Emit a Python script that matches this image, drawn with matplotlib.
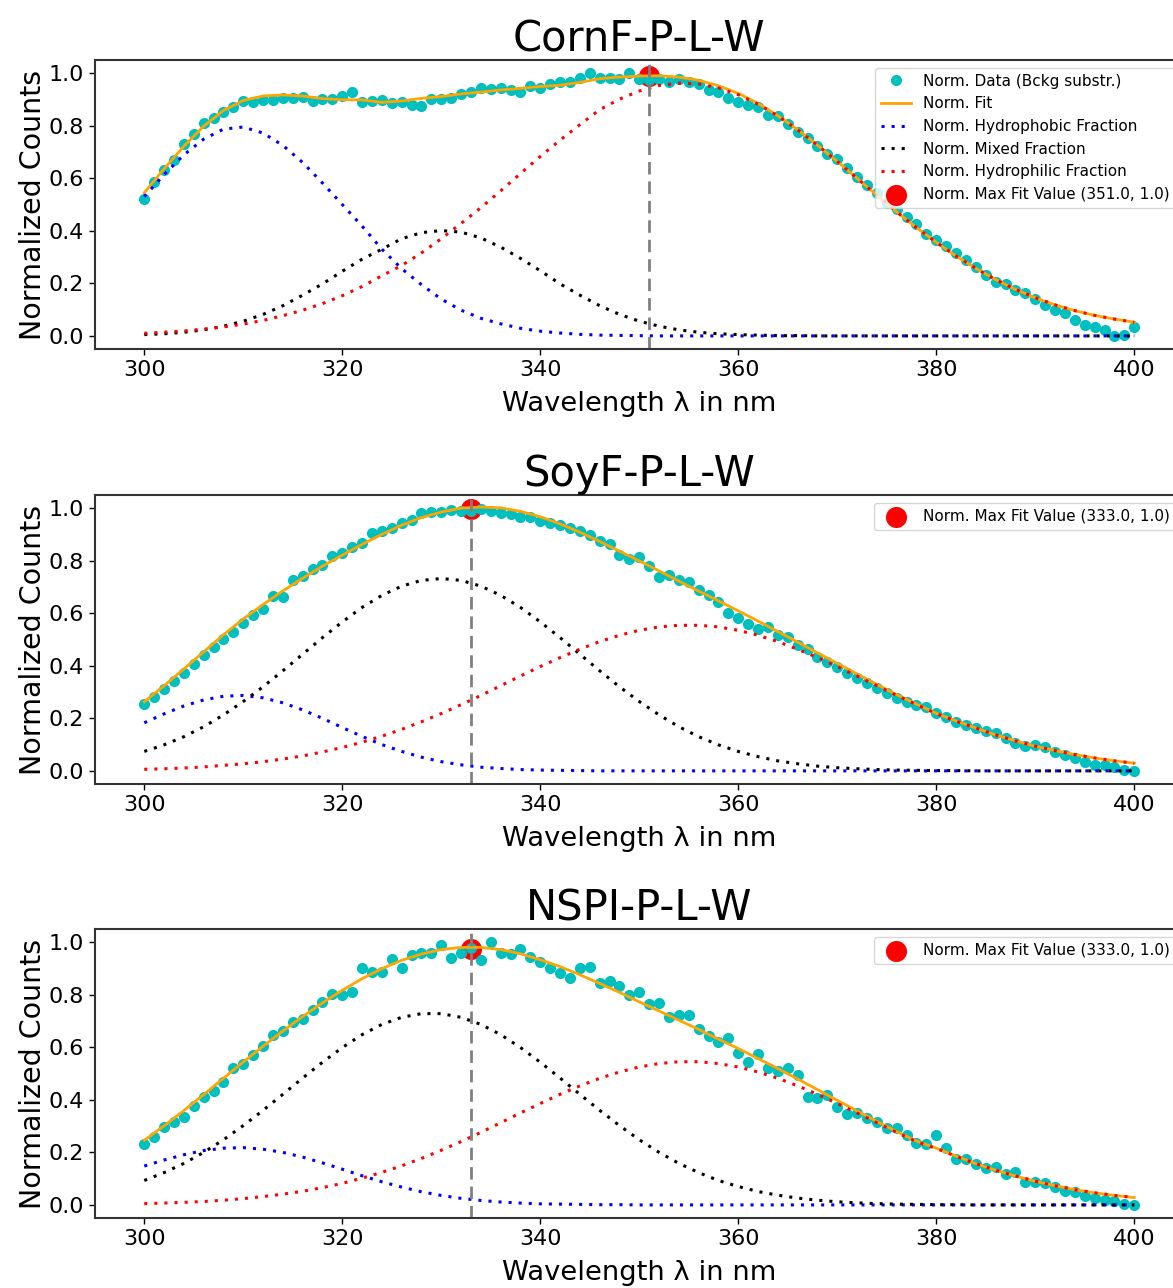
import matplotlib.pyplot as plt
import numpy as np

# axes of the spectra
wavelength = np.arange(300, 401)           # measured points, 1 nm step
wavelength_fit = np.arange(300, 401, 2)    # fitted components, 2 nm step

# ---------------- CornF-P-L-W ----------------
cornf_data = [0.52, 0.585, 0.63, 0.67, 0.73, 0.77, 0.81, 0.83, 0.853, 0.873,
              0.894, 0.89, 0.898, 0.898, 0.907, 0.907, 0.91, 0.895, 0.903, 0.90,
              0.913, 0.927, 0.889, 0.894, 0.897, 0.888, 0.89, 0.879, 0.875, 0.903,
              0.903, 0.907, 0.921, 0.927, 0.945, 0.938, 0.945, 0.936, 0.93, 0.952,
              0.945, 0.958, 0.965, 0.965, 0.98, 1.0, 0.98, 0.98, 0.978, 1.0,
              0.978, 0.975, 0.978, 0.968, 0.978, 0.968, 0.958, 0.936, 0.93, 0.907,
              0.89, 0.879, 0.87, 0.84, 0.836, 0.807, 0.777, 0.754, 0.723, 0.693,
              0.672, 0.638, 0.606, 0.574, 0.543, 0.505, 0.483, 0.454, 0.426, 0.388,
              0.364, 0.342, 0.317, 0.289, 0.263, 0.232, 0.206, 0.196, 0.175, 0.162,
              0.139, 0.118, 0.099, 0.086, 0.06, 0.042, 0.035, 0.022, 0.0, 0.003, 0.035]
cornf_hydrophobic = [0.530, 0.614, 0.689, 0.749, 0.787, 0.795, 0.772, 0.725, 0.660, 0.582,
                     0.500, 0.418, 0.330, 0.256, 0.195, 0.140, 0.098, 0.067, 0.046, 0.029,
                     0.018, 0.011, 0.006, 0.003, 0.002, 0.001] + [0.0] * 25
cornf_mixed = [0.005, 0.008, 0.014, 0.023, 0.037, 0.056, 0.082, 0.115, 0.155, 0.198,
               0.246, 0.292, 0.330, 0.370, 0.393, 0.401, 0.395, 0.373, 0.338, 0.295,
               0.248, 0.198, 0.155, 0.115, 0.082, 0.056, 0.037, 0.023, 0.014, 0.008,
               0.005, 0.003, 0.001, 0.001] + [0.0] * 17
cornf_hydrophilic = [0.010, 0.014, 0.019, 0.026, 0.034, 0.045, 0.059, 0.077, 0.098, 0.123,
                     0.153, 0.188, 0.229, 0.268, 0.316, 0.370, 0.428, 0.488, 0.552, 0.618,
                     0.683, 0.745, 0.804, 0.861, 0.901, 0.932, 0.953, 0.962, 0.959, 0.944,
                     0.918, 0.882, 0.837, 0.784, 0.726, 0.664, 0.600, 0.535, 0.472, 0.412,
                     0.356, 0.304, 0.257, 0.214, 0.177, 0.145, 0.118, 0.096, 0.078, 0.064,
                     0.052]
cornf_max = (351.0, 0.99)

# ---------------- SoyF-P-L-W ----------------
soyf_data = [0.253, 0.28, 0.31, 0.342, 0.371, 0.406, 0.44, 0.47, 0.503, 0.53,
             0.561, 0.593, 0.616, 0.665, 0.663, 0.727, 0.742, 0.767, 0.783, 0.818,
             0.83, 0.851, 0.869, 0.907, 0.913, 0.926, 0.945, 0.955, 0.983, 0.987,
             0.987, 0.993, 0.99, 0.99, 0.995, 0.99, 0.982, 0.978, 0.965, 0.965,
             0.952, 0.942, 0.936, 0.923, 0.914, 0.898, 0.873, 0.862, 0.822, 0.805,
             0.815, 0.78, 0.737, 0.746, 0.727, 0.72, 0.688, 0.669, 0.644, 0.602,
             0.581, 0.558, 0.539, 0.546, 0.517, 0.511, 0.479, 0.462, 0.435, 0.416,
             0.396, 0.371, 0.352, 0.336, 0.314, 0.295, 0.279, 0.263, 0.25, 0.244,
             0.221, 0.206, 0.187, 0.175, 0.162, 0.153, 0.143, 0.124, 0.105, 0.095,
             0.099, 0.092, 0.073, 0.06, 0.048, 0.035, 0.022, 0.022, 0.014, 0.003, 0.0]
soyf_hydrophobic = [0.183, 0.217, 0.247, 0.270, 0.284, 0.287, 0.278, 0.259, 0.232, 0.200,
                    0.165, 0.131, 0.100, 0.074, 0.052, 0.035, 0.023, 0.014, 0.009, 0.005,
                    0.003, 0.002, 0.001] + [0.0] * 28
soyf_mixed = [0.074, 0.099, 0.130, 0.168, 0.213, 0.264, 0.320, 0.381, 0.444, 0.507,
              0.567, 0.622, 0.668, 0.703, 0.725, 0.732, 0.725, 0.703, 0.668, 0.622,
              0.567, 0.507, 0.444, 0.381, 0.320, 0.264, 0.213, 0.168, 0.130, 0.099,
              0.074, 0.054, 0.038, 0.027, 0.018, 0.012, 0.008, 0.005, 0.003, 0.002,
              0.001, 0.001] + [0.0] * 9
soyf_hydrophilic = [0.006, 0.008, 0.011, 0.015, 0.021, 0.027, 0.035, 0.045, 0.057, 0.072,
                    0.089, 0.109, 0.132, 0.158, 0.187, 0.218, 0.252, 0.287, 0.324, 0.361,
                    0.397, 0.431, 0.463, 0.492, 0.516, 0.535, 0.548, 0.554, 0.554, 0.548,
                    0.535, 0.516, 0.492, 0.463, 0.431, 0.397, 0.361, 0.324, 0.287, 0.252,
                    0.218, 0.189, 0.163, 0.137, 0.114, 0.094, 0.077, 0.062, 0.049, 0.038,
                    0.029]
soyf_max = (333.0, 0.995)

# ---------------- NSPI-P-L-W ----------------
nspi_data = [0.231, 0.26, 0.298, 0.317, 0.336, 0.376, 0.412, 0.433, 0.469, 0.52,
             0.535, 0.571, 0.606, 0.647, 0.662, 0.697, 0.708, 0.742, 0.774, 0.801,
             0.799, 0.812, 0.903, 0.888, 0.888, 0.936, 0.9, 0.951, 0.96, 0.957,
             0.989, 0.941, 0.96, 0.976, 0.932, 1.0, 0.958, 0.954, 0.974, 0.942,
             0.926, 0.9, 0.881, 0.865, 0.9, 0.907, 0.843, 0.852, 0.834, 0.799,
             0.812, 0.763, 0.767, 0.714, 0.723, 0.723, 0.669, 0.643, 0.621, 0.634,
             0.577, 0.545, 0.573, 0.52, 0.508, 0.52, 0.495, 0.412, 0.406, 0.418,
             0.374, 0.345, 0.349, 0.332, 0.314, 0.291, 0.291, 0.268, 0.234, 0.231,
             0.268, 0.215, 0.175, 0.175, 0.154, 0.139, 0.145, 0.116, 0.124, 0.089,
             0.086, 0.082, 0.069, 0.054, 0.05, 0.035, 0.028, 0.019, 0.015, 0.003, 0.0]
nspi_hydrophobic = [0.148, 0.171, 0.191, 0.207, 0.216, 0.218, 0.212, 0.200, 0.182, 0.160,
                    0.136, 0.111, 0.088, 0.068, 0.050, 0.036, 0.025, 0.017, 0.011, 0.007,
                    0.004, 0.003, 0.002, 0.001, 0.001] + [0.0] * 26
nspi_mixed = [0.093, 0.123, 0.158, 0.200, 0.248, 0.302, 0.360, 0.421, 0.483, 0.543,
              0.599, 0.648, 0.687, 0.714, 0.728, 0.728, 0.714, 0.687, 0.648, 0.599,
              0.543, 0.483, 0.421, 0.360, 0.302, 0.248, 0.200, 0.158, 0.123, 0.093,
              0.070, 0.051, 0.037, 0.026, 0.018, 0.012, 0.008, 0.005, 0.003, 0.002,
              0.001, 0.001] + [0.0] * 9
nspi_hydrophilic = [0.005, 0.007, 0.010, 0.013, 0.018, 0.024, 0.032, 0.041, 0.052, 0.066,
                    0.082, 0.102, 0.124, 0.149, 0.177, 0.208, 0.241, 0.276, 0.313, 0.350,
                    0.386, 0.421, 0.453, 0.482, 0.506, 0.525, 0.538, 0.545, 0.545, 0.538,
                    0.525, 0.506, 0.482, 0.453, 0.421, 0.386, 0.350, 0.313, 0.276, 0.241,
                    0.215, 0.185, 0.157, 0.132, 0.110, 0.090, 0.073, 0.058, 0.046, 0.036,
                    0.028]
nspi_max = (333.0, 0.975)


def plot_panel(ax, title, data, hydrophobic, mixed, hydrophilic, max_point, full_legend):
    # fit = somme des trois fractions
    fit = np.array(hydrophobic) + np.array(mixed) + np.array(hydrophilic)

    def lab(text):
        return text if full_legend else None

    max_x, max_y = max_point
    ax.plot(wavelength, data, 'o', color='c', markersize=7, label=lab('Norm. Data (Bckg substr.)'))
    ax.plot(wavelength_fit, fit, color='orange', lw=2, label=lab('Norm. Fit'))
    dot = (0, (1, 2.3))
    ax.plot(wavelength_fit, hydrophobic, color='blue', ls=dot, lw=2.2, label=lab('Norm. Hydrophobic Fraction'))
    ax.plot(wavelength_fit, mixed, color='black', ls=dot, lw=2.2, label=lab('Norm. Mixed Fraction'))
    ax.plot(wavelength_fit, hydrophilic, color='red', ls=dot, lw=2.2, label=lab('Norm. Hydrophilic Fraction'))
    # point max: sous les donnees
    ax.scatter([max_x], [max_y], s=200, color='red', zorder=1,
               label=f'Norm. Max Fit Value ({max_x:.1f}, {max_y:.1f})')
    ax.axvline(max_x, color='gray', ls=(0, (4.5, 2.5)), lw=2)

    ax.set_xlim(295, 405)
    ax.set_ylim(-0.05, 1.05)
    ax.set_xticks([300, 320, 340, 360, 380, 400])
    ax.set_yticks([0.0, 0.2, 0.4, 0.6, 0.8, 1.0])
    ax.set_title(title, fontsize=30)
    ax.set_xlabel('Wavelength λ in nm', fontsize=19.7, labelpad=8)
    ax.set_ylabel('Normalized Counts', fontsize=20.5, labelpad=1)
    ax.tick_params(labelsize=16, length=4.5, width=1.0)
    for sp in ax.spines.values():
        sp.set_linewidth(1.5)
        sp.set_color('#333333')
    ax.legend(loc='upper right', fontsize=11)


fig = plt.figure(figsize=(11.73, 12.88), dpi=100)
ax1 = fig.add_axes([0.0808, 0.7290, 0.9284, 0.2244])
ax2 = fig.add_axes([0.0808, 0.3913, 0.9284, 0.2244])
ax3 = fig.add_axes([0.0808, 0.0543, 0.9284, 0.2244])

plot_panel(ax1, 'CornF-P-L-W', cornf_data, cornf_hydrophobic, cornf_mixed, cornf_hydrophilic, cornf_max, True)
plot_panel(ax2, 'SoyF-P-L-W', soyf_data, soyf_hydrophobic, soyf_mixed, soyf_hydrophilic, soyf_max, False)
plot_panel(ax3, 'NSPI-P-L-W', nspi_data, nspi_hydrophobic, nspi_mixed, nspi_hydrophilic, nspi_max, False)

fig.savefig('out.png', dpi=100)
